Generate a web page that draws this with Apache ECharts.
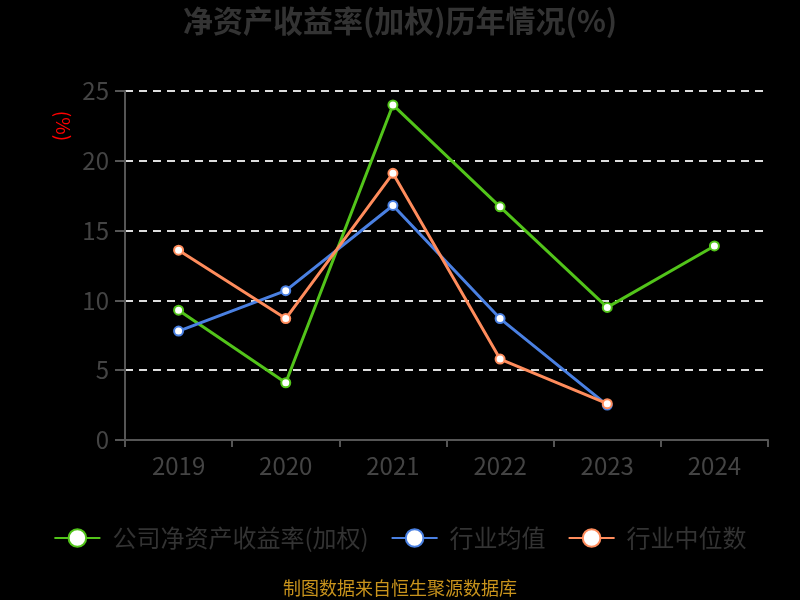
<!DOCTYPE html>
<html lang="zh">
  <head>
    <meta charset="UTF-8" />
    <title>净资产收益率(加权)历年情况</title>
    <script src="https://cdn.jsdelivr.net/npm/echarts@6/dist/echarts.min.js"></script>
    <style>
      html, body { margin: 0; padding: 0; background: #000; }
    </style>
  </head>
  <body>
    <div id="chart" style="width: 800px; height: 600px"></div>
    <script>
      const years = ["2019", "2020", "2021", "2022", "2023", "2024"];
      const companyRoe = [9.3, 4.1, 24.0, 16.7, 9.5, 13.9];
      const industryAvg = [7.8, 10.7, 16.8, 8.7, 2.5, null];
      const industryMedian = [13.6, 8.7, 19.1, 5.8, 2.6, null];
      const seriesNames = ["公司净资产收益率(加权)", "行业均值", "行业中位数"];
      const colors = ["#52c41a", "#4a80e2", "#ff8c5c"];

      const chart = echarts.init(document.getElementById("chart"));
      const font = "'Noto Sans CJK SC', 'Noto Sans', sans-serif";

      const makeLine = (name, data, color) => ({
        name: name,
        type: "line",
        data: data,
        symbol: "circle",
        symbolSize: 9,
        lineStyle: { color: color, width: 3 },
        itemStyle: { color: "#fff", borderColor: color, borderWidth: 2 },
      });

      const option = {
        backgroundColor: "#000",
        textStyle: { fontFamily: font },
        title: {
          text: "净资产收益率(加权)历年情况(%)",
          left: "center",
          top: 1,
          textStyle: { color: "#333", fontSize: 30, fontWeight: "bold", fontFamily: font },
        },
        grid: { left: 125, right: 32, top: 91, bottom: 160 },
        legend: {
          bottom: 45,
          left: "center",
          itemWidth: 46,
          itemHeight: 22,
          itemGap: 22,
          textStyle: { color: "#333", fontSize: 24, fontFamily: font, padding: [0, 0, 0, 7] },
          data: seriesNames,
        },
        xAxis: {
          type: "category",
          data: years,
          boundaryGap: true,
          axisLine: { lineStyle: { color: "#555", width: 2 } },
          axisTick: { show: true, length: 7, lineStyle: { color: "#555", width: 2 } },
          axisLabel: { color: "#444", fontSize: 24, margin: 14 },
        },
        yAxis: {
          type: "value",
          min: 0,
          max: 25,
          interval: 5,
          axisLine: { show: true, lineStyle: { color: "#555", width: 2 } },
          axisTick: { show: true, length: 10, lineStyle: { color: "#555", width: 2 } },
          axisLabel: { color: "#444", fontSize: 24, margin: 16 },
          splitLine: { lineStyle: { color: "#ddd", type: [8, 6], width: 2 } },
        },
        graphic: [
          {
            type: "text",
            x: 63,
            y: 126,
            rotation: -Math.PI / 2,
            style: {
              text: "(%)",
              fill: "#ff0000",
              fontSize: 19,
              fontFamily: font,
              textAlign: "center",
              textVerticalAlign: "middle",
            },
          },
          {
            type: "text",
            left: "center",
            top: 579,
            style: {
              text: "制图数据来自恒生聚源数据库",
              fill: "#c8931c",
              fontSize: 18,
              fontFamily: font,
            },
          },
        ],
        series: [
          makeLine(seriesNames[0], companyRoe, colors[0]),
          makeLine(seriesNames[1], industryAvg, colors[1]),
          makeLine(seriesNames[2], industryMedian, colors[2]),
        ],
      };

      chart.setOption(option);
    </script>
  </body>
</html>
